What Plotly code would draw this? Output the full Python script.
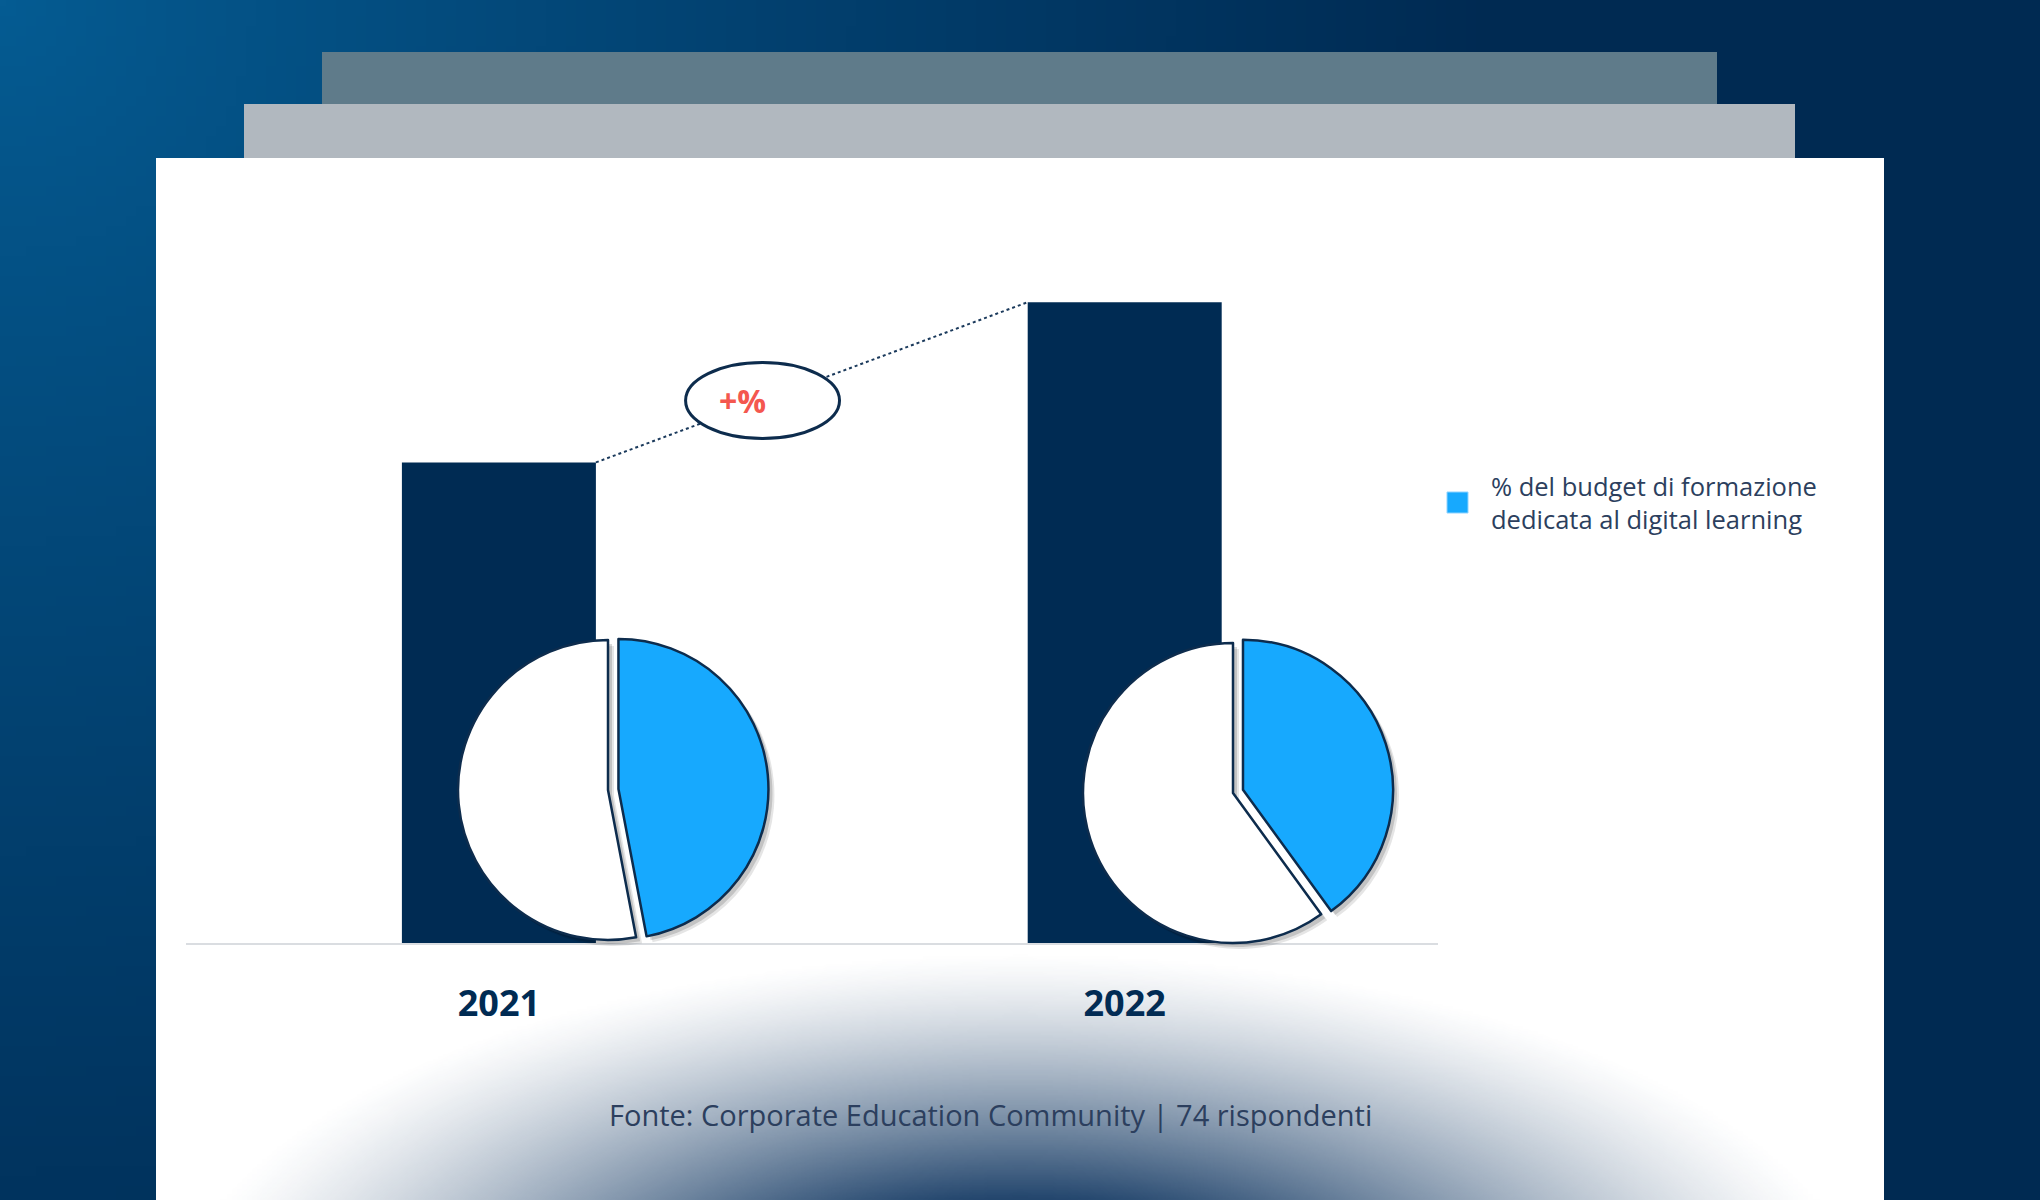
import base64
import struct
import zlib

import numpy as np
import plotly.graph_objects as go

W, H = 2040, 1200

years = ["2021", "2022"]
bar_values = [30, 40]
digital_share = [47, 40]
other_share = [53, 60]
slice_labels = ["% del budget di formazione dedicata al digital learning", "Altro"]
legend_text = "% del budget di formazione<br>dedicata al digital learning"

navy = "#002b53"
sky = "#17a9fe"
text_col = "#2c3f5e"


def png_uri(rgba):
    # rgba: (h, w, 4) uint8 -> data uri
    h, w, _ = rgba.shape
    raw = b"".join(b"\x00" + rgba[i].tobytes() for i in range(h))

    def chunk(tag, data):
        c = struct.pack(">I", len(data)) + tag + data
        return c + struct.pack(">I", zlib.crc32(tag + data) & 0xFFFFFFFF)

    png = b"\x89PNG\r\n\x1a\n"
    png += chunk(b"IHDR", struct.pack(">IIBBBBB", w, h, 8, 6, 0, 0, 0))
    png += chunk(b"IDAT", zlib.compress(raw, 9))
    png += chunk(b"IEND", b"")
    return "data:image/png;base64," + base64.b64encode(png).decode()


# background: blue gradient from the top-left corner
gw, gh = 204, 120
yy, xx = np.mgrid[0:gh, 0:gw].astype(float)
t = np.clip(np.hypot(xx * 10, yy * 10) / 1500, 0, 1) ** 0.9
c1 = np.array([0x05, 0x5c, 0x93])
c2 = np.array([0x00, 0x2a, 0x52])
bg = np.zeros((gh, gw, 4), dtype=np.uint8)
bg[..., :3] = (c1 * (1 - t[..., None]) + c2 * t[..., None]).astype(np.uint8)
bg[..., 3] = 255
bg_uri = png_uri(bg)

# bottom glow on the card (clipped left/right like the original)
ex0, ex1, ey0, ey1 = 220, 1820, 950, 1200
gw2, gh2 = 320, 100
yy, xx = np.mgrid[0:gh2, 0:gw2].astype(float)
px_ = ex0 + (xx + 0.5) * (ex1 - ex0) / gw2
py_ = ey0 + (yy + 0.5) * (ey1 - ey0) / gh2
d = np.hypot((px_ - 1020) / 860, (py_ - 1330) / 380)
a = 1.6 * np.clip(1 - d, 0, 1) ** 1.3
a = np.clip(a, 0, 0.92)
glow = np.zeros((gh2, gw2, 4), dtype=np.uint8)
glow[..., 0], glow[..., 1], glow[..., 2] = 0x0f, 0x35, 0x60
glow[..., 3] = (a * 255).astype(np.uint8)
glow_uri = png_uri(glow)

fig = go.Figure()

fig.add_trace(go.Bar(x=years, y=bar_values, width=0.31, marker_color=navy,
                     marker_line_width=0, showlegend=False, hoverinfo="skip"))

# pies: centre and radius in pixels
pie_centres = [(608, 790), (1233, 793)]
radius = 150
pull = 0.07
half = radius * (1 + pull)


def dom(cx, cy, dx=0, dy=0):
    return dict(x=[(cx + dx - half) / W, (cx + dx + half) / W],
                y=[1 - (cy + dy + half) / H, 1 - (cy + dy - half) / H])


for i, (cx, cy) in enumerate(pie_centres):
    vals = [digital_share[i], other_share[i]]
    # soft shadow
    for off, op in [(6, 0.10), (4, 0.15)]:
        fig.add_trace(go.Pie(values=vals, labels=slice_labels, sort=False,
                             direction="clockwise", rotation=0, pull=[pull, 0],
                             marker=dict(colors=["rgba(0,0,0,%s)" % op] * 2,
                                         line=dict(width=0)),
                             textinfo="none", hoverinfo="skip", showlegend=False,
                             domain=dom(cx, cy, off, off)))
    fig.add_trace(go.Pie(values=vals, labels=slice_labels, sort=False,
                         direction="clockwise", rotation=0, pull=[pull, 0],
                         marker=dict(colors=[sky, "#ffffff"],
                                     line=dict(color="#0d2c4d", width=2.5)),
                         textinfo="none", showlegend=False,
                         domain=dom(cx, cy)))

shapes = [
    dict(type="rect", xref="paper", yref="paper", layer="below",
         x0=322 / W, x1=1717 / W, y0=1 - 160 / H, y1=1 - 52 / H,
         fillcolor="#5f7b8a", line_width=0),
    dict(type="rect", xref="paper", yref="paper", layer="below",
         x0=244 / W, x1=1795 / W, y0=1 - 160 / H, y1=1 - 104 / H,
         fillcolor="#b1b8bf", line_width=0),
    dict(type="rect", xref="paper", yref="paper", layer="below",
         x0=156 / W, x1=1884 / W, y0=0, y1=1 - 158 / H,
         fillcolor="#ffffff", line_width=0),
    # dotted link between bar tops
    dict(type="line", xref="x", yref="y", x0=0.155, y0=bar_values[0],
         x1=0.845, y1=bar_values[1], line=dict(color="#1b3a5c", width=2, dash="dot")),
    dict(type="circle", xref="x", yref="y", x0=0.4213 - 0.123, x1=0.4213 + 0.123,
         y0=33.86 - 2.37, y1=33.86 + 2.37, fillcolor="#ffffff",
         line=dict(color="#0d2c4d", width=3)),
    # legend marker
    dict(type="rect", xref="paper", yref="paper",
         x0=1447 / W, x1=1468 / W, y0=1 - 513 / H, y1=1 - 492 / H,
         fillcolor=sky, line=dict(color="#8fd3ff", width=1)),
]

annotations = [
    dict(x=0.39, y=33.86, xref="x", yref="y", text="<b>+%</b>", showarrow=False,
         font=dict(family="Open Sans", size=32, color="#f4574f")),
    dict(x=990 / W, y=1 - 1136 / H, xref="paper", yref="paper", showarrow=False,
         text="Fonte: Corporate Education Community | 74 rispondenti",
         font=dict(family="Open Sans", size=29, color=text_col)),
    dict(x=1489 / W, y=1 - 502 / H, xref="paper", yref="paper", xanchor="left",
         yanchor="middle", align="left", showarrow=False, text=legend_text,
         font=dict(family="Open Sans", size=25.5, color=text_col)),
]

fig.update_layout(
    width=W, height=H,
    margin=dict(l=0, r=0, t=0, b=0),
    paper_bgcolor="#002a52",
    plot_bgcolor="rgba(0,0,0,0)",
    images=[
        dict(source=bg_uri, xref="paper", yref="paper", x=0, y=1, sizex=1, sizey=1,
             xanchor="left", yanchor="top", sizing="stretch", layer="below"),
        dict(source=glow_uri, xref="paper", yref="paper", x=ex0 / W, y=1 - ey0 / H,
             sizex=(ex1 - ex0) / W, sizey=(ey1 - ey0) / H,
             xanchor="left", yanchor="top", sizing="stretch", layer="above"),
    ],
    shapes=shapes,
    annotations=annotations,
    xaxis=dict(domain=[186 / W, 1437.6 / W], range=[-0.5, 1.5], showgrid=False,
               zeroline=False, showline=True, linecolor="#dadde1", linewidth=2,
               ticks="", ticklabelstandoff=28,
               tickfont=dict(family="Open Sans", size=36, color=navy, weight="bold")),
    yaxis=dict(domain=[1 - 943 / H, 1 - 943 / H + 801 / H], range=[0, 50],
               visible=False, fixedrange=True),
    showlegend=False,
)

fig.write_html("out.html", config={"displayModeBar": False},
               post_script="document.body.style.margin = '0';")
